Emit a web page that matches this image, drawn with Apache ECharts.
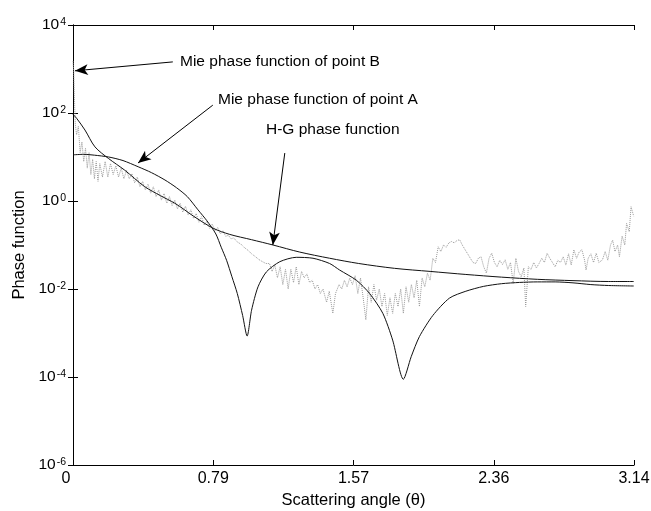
<!DOCTYPE html>
<html>
<head>
<meta charset="utf-8">
<script src="https://cdn.jsdelivr.net/npm/echarts@6/dist/echarts.min.js"></script>
<style>
  html, body { margin: 0; padding: 0; background: #fff; }
  #chart { width: 651px; height: 511px; }
</style>
</head>
<body>
<div id="chart"></div>
<script>
// Scattering angle (rad) and phase function values for each curve
const thetaA = [0.0, 0.06, 0.12, 0.2, 0.28, 0.365, 0.44, 0.515, 0.58, 0.64, 0.70, 0.75, 0.80, 0.83, 0.86, 0.89, 0.92, 0.95, 0.975, 1.0, 1.036, 1.083, 1.158, 1.25, 1.344, 1.437, 1.493, 1.587, 1.661, 1.735, 1.79, 1.85, 1.894, 1.94, 2.015, 2.108, 2.2, 2.3, 2.4, 2.5, 2.6, 2.7, 2.8, 2.9, 3.0, 3.14];
const valueA = [11.2, 11.5, 11.0, 10.0, 8.3, 6.0, 4.4, 3.0, 2.0, 1.26, 0.63, 0.355, 0.178, 0.089, 0.045, 0.019, 0.0079, 0.0025, 0.00085, 0.0033, 0.0112, 0.0245, 0.0417, 0.0525, 0.050, 0.038, 0.027, 0.0158, 0.0079, 0.0028, 0.00069, 0.000089, 0.00029, 0.00083, 0.0025, 0.0062, 0.0089, 0.0115, 0.0132, 0.0141, 0.0145, 0.0145, 0.0138, 0.0126, 0.012, 0.0117];

const thetaHG = [0.0, 0.02, 0.067, 0.123, 0.198, 0.29, 0.40, 0.49, 0.57, 0.625, 0.673, 0.785, 0.878, 1.0, 1.12, 1.27, 1.437, 1.6, 1.8, 2.0, 2.2, 2.4, 2.6, 2.8, 3.0, 3.14];
const valueHG = [93, 76, 41, 17, 9.3, 5.0, 2.14, 1.32, 0.89, 0.63, 0.457, 0.24, 0.174, 0.132, 0.1, 0.069, 0.050, 0.038, 0.0295, 0.0251, 0.0214, 0.0186, 0.0166, 0.0155, 0.0148, 0.0148];

const thetaB = [0.0, 0.004, 0.009, 0.013, 0.02, 0.03, 0.04, 0.05, 0.06, 0.07, 0.08, 0.09, 0.10, 0.11, 0.12, 0.13, 0.14, 0.15, 0.165, 0.18,
  0.195, 0.21, 0.225, 0.24, 0.255, 0.27, 0.285, 0.30, 0.315, 0.33, 0.345, 0.36, 0.375, 0.39, 0.405, 0.42, 0.435, 0.45, 0.465, 0.48,
  0.495, 0.51, 0.525, 0.54, 0.555, 0.57, 0.585, 0.60, 0.615, 0.63, 0.645, 0.66, 0.675, 0.69, 0.705, 0.72, 0.735, 0.75, 0.765, 0.78,
  0.795, 0.81, 0.825, 0.84, 0.855, 0.87, 0.885, 0.90, 0.92, 0.94, 0.96, 0.98, 1.00, 1.02, 1.04, 1.06, 1.08, 1.10, 1.115, 1.13,
  1.145, 1.16, 1.175, 1.19, 1.205, 1.22, 1.235, 1.25, 1.265, 1.28, 1.295, 1.31, 1.325, 1.34, 1.355, 1.37, 1.385, 1.40, 1.42, 1.435,
  1.455, 1.47, 1.49, 1.505, 1.52, 1.535, 1.55, 1.565, 1.58, 1.595, 1.61, 1.625, 1.64, 1.655, 1.67, 1.685, 1.70, 1.715, 1.73, 1.745,
  1.76, 1.775, 1.79, 1.805, 1.82, 1.835, 1.85, 1.865, 1.88, 1.895, 1.91, 1.925, 1.94, 1.955, 1.97, 1.985, 2.00, 2.015, 2.03, 2.045,
  2.06, 2.075, 2.09, 2.105, 2.12, 2.135, 2.15, 2.165, 2.18, 2.195, 2.21, 2.225, 2.24, 2.255, 2.27, 2.285, 2.30, 2.315, 2.33, 2.345,
  2.36, 2.375, 2.39, 2.405, 2.42, 2.435, 2.45, 2.465, 2.48, 2.495, 2.51, 2.525, 2.535, 2.55, 2.565, 2.58, 2.595, 2.61, 2.625, 2.64,
  2.655, 2.67, 2.685, 2.70, 2.715, 2.73, 2.745, 2.76, 2.775, 2.79, 2.805, 2.82, 2.835, 2.85, 2.865, 2.873, 2.885, 2.90, 2.915, 2.93,
  2.945, 2.965, 2.98, 2.995, 3.01, 3.022, 3.035, 3.05, 3.06, 3.075, 3.09, 3.10, 3.115, 3.125, 3.14];
const valueB = [1500, 900, 158, 56, 32, 50, 12.6, 22, 7.9, 15.8, 5.6, 12.6, 4.0, 8.9, 3.2, 7.9, 2.8, 7.1, 3.5, 7.9,
  3.5, 7.1, 4.0, 6.3, 3.5, 5.6, 3.2, 5.0, 3.2, 4.2, 2.6, 3.5, 2.1, 2.8, 1.78, 2.4, 1.51, 2.1, 1.26, 1.78,
  1.05, 1.48, 0.89, 1.26, 0.79, 1.05, 0.66, 0.89, 0.56, 0.76, 0.48, 0.63, 0.40, 0.52, 0.33, 0.44, 0.28, 0.35, 0.24, 0.30,
  0.21, 0.25, 0.178, 0.21, 0.158, 0.166, 0.138, 0.145, 0.117, 0.105, 0.087, 0.076, 0.063, 0.055, 0.047, 0.042, 0.038, 0.038, 0.025, 0.035,
  0.018, 0.032, 0.0126, 0.028, 0.010, 0.028, 0.014, 0.032, 0.0126, 0.025, 0.018, 0.022, 0.014, 0.0158, 0.010, 0.0126, 0.0079, 0.010, 0.005, 0.0089,
  0.0028, 0.0079, 0.0126, 0.010, 0.0158, 0.0112, 0.0178, 0.0126, 0.020, 0.0079, 0.0178, 0.0063, 0.0020, 0.0112, 0.005, 0.0126, 0.0056, 0.010, 0.0040, 0.0079,
  0.0025, 0.0063, 0.0028, 0.0079, 0.0040, 0.010, 0.0028, 0.0112, 0.005, 0.0126, 0.0063, 0.0158, 0.0040, 0.0178, 0.0112, 0.023, 0.0158, 0.050, 0.040, 0.091,
  0.071, 0.10, 0.089, 0.112, 0.12, 0.112, 0.126, 0.132, 0.10, 0.079, 0.063, 0.050, 0.040, 0.038, 0.05, 0.054, 0.032, 0.023, 0.050, 0.065,
  0.040, 0.032, 0.045, 0.036, 0.046, 0.028, 0.040, 0.0135, 0.05, 0.025, 0.019, 0.030, 0.004, 0.032, 0.028, 0.040, 0.030, 0.038, 0.050, 0.040,
  0.065, 0.050, 0.040, 0.032, 0.045, 0.040, 0.054, 0.035, 0.063, 0.035, 0.078, 0.050, 0.070, 0.078, 0.045, 0.027, 0.050, 0.063, 0.040, 0.065,
  0.040, 0.046, 0.071, 0.045, 0.10, 0.129, 0.071, 0.10, 0.054, 0.16, 0.10, 0.31, 0.2, 0.74, 0.45];

// Annotation arrows: [tail angle, tail value, head angle, head value] and their captions
const arrowB = [0.559, 1450, 0.011, 910];
const arrowA = [0.783, 151, 0.364, 7.3];
const arrowHG = [1.186, 12.3, 1.119, 0.1];
const captions = ['Mie phase function of point B', 'Mie phase function of point A', 'H-G phase function'];

const FONT = '"Liberation Sans", Arial, Helvetica, sans-serif';
const zip = (xs, ys) => xs.map((x, i) => [x, ys[i]]);

const chart = echarts.init(document.getElementById('chart'), null, { renderer: 'canvas' });

const arrowPair = a => [{ coord: [a[0], a[1]] }, { coord: [a[2], a[3]] }];

const option = {
  backgroundColor: '#ffffff',
  animation: false,
  textStyle: { fontFamily: FONT, color: '#000' },
  grid: { left: 73, right: 17, top: 25, bottom: 46, show: false, outerBoundsMode: 'none', containLabel: false },
  xAxis: [
    {
      type: 'value', min: 0, max: Math.PI, interval: Math.PI / 4,
      name: 'Scattering angle (\u03b8)', nameLocation: 'middle', nameGap: 24,
      nameTextStyle: { fontSize: 16.5, color: '#000', fontFamily: FONT },
      axisLine: { show: true, lineStyle: { color: '#000', width: 1 } },
      axisTick: { show: true, inside: true, length: 5, lineStyle: { color: '#000' } },
      splitLine: { show: false },
      axisLabel: {
        fontSize: 16, color: '#000', fontFamily: FONT, margin: 6,
        formatter: v => v === 0 ? '{z|0}' : v.toFixed(2),
        rich: { z: { fontSize: 16, color: '#000', fontFamily: FONT, padding: [0, 14, 0, 0] } }
      }
    },
    {
      type: 'value', min: 0, max: Math.PI, interval: Math.PI / 4, position: 'top',
      axisLine: { show: true, lineStyle: { color: '#000', width: 1 } },
      axisTick: { show: true, inside: true, length: 5, lineStyle: { color: '#000' } },
      axisLabel: { show: false }, splitLine: { show: false }
    }
  ],
  yAxis: [
    {
      type: 'log', logBase: 10, min: 1e-6, max: 1e4, interval: 2,
      name: 'Phase function', nameLocation: 'middle', nameGap: 41,
      nameTextStyle: { fontSize: 16.5, color: '#000', fontFamily: FONT },
      axisLine: { show: true, lineStyle: { color: '#000', width: 1 } },
      axisTick: { show: true, inside: true, length: 5, lineStyle: { color: '#000' } },
      splitLine: { show: false },
      axisLabel: {
        margin: 7,
        formatter: v => '{b|10}{s|' + Math.round(Math.log10(v)) + '}',
        rich: {
          b: { fontSize: 15.5, color: '#000', fontFamily: FONT, lineHeight: 16, verticalAlign: 'bottom' },
          s: { fontSize: 10.5, color: '#000', fontFamily: FONT, lineHeight: 11, verticalAlign: 'top', padding: [0, 0, 10, 1] }
        }
      }
    },
    {
      type: 'log', logBase: 10, min: 1e-6, max: 1e4, interval: 2, position: 'right',
      axisLine: { show: true, lineStyle: { color: '#000', width: 1 } },
      axisTick: { show: true, inside: true, length: 5, lineStyle: { color: '#000' } },
      axisLabel: { show: false }, splitLine: { show: false }
    }
  ],
  series: [
    {
      name: 'Mie phase function of point B', type: 'line', data: zip(thetaB, valueB),
      showSymbol: false, symbol: 'none', smooth: false, z: 2,
      lineStyle: { color: '#9a9a9a', width: 1, type: 'dotted' }
    },
    {
      name: 'H-G phase function', type: 'line', data: zip(thetaHG, valueHG),
      showSymbol: false, symbol: 'none', smooth: 0.3, z: 3,
      lineStyle: { color: '#111', width: 1 }
    },
    {
      name: 'Mie phase function of point A', type: 'line', data: zip(thetaA, valueA),
      showSymbol: false, symbol: 'none', smooth: 0.25, z: 3,
      lineStyle: { color: '#111', width: 1 }
    },
    {
      name: 'arrows', type: 'line', data: [], z: 5,
      markLine: {
        silent: true, animation: false,
        symbol: ['none', 'arrow'], symbolSize: [8, 13],
        label: { show: false },
        lineStyle: { color: '#000', width: 1, type: 'solid' },
        data: [arrowPair(arrowB), arrowPair(arrowA), arrowPair(arrowHG)]
      }
    }
  ],
  graphic: [
    { type: 'text', left: 180, top: 54, style: { text: captions[0], font: '15.5px ' + FONT, fill: '#000' } },
    { type: 'text', left: 218, top: 92, style: { text: captions[1], font: '15.5px ' + FONT, fill: '#000' } },
    { type: 'text', left: 266, top: 122, style: { text: captions[2], font: '15.5px ' + FONT, fill: '#000' } }
  ]
};

chart.setOption(option);
</script>
</body>
</html>
